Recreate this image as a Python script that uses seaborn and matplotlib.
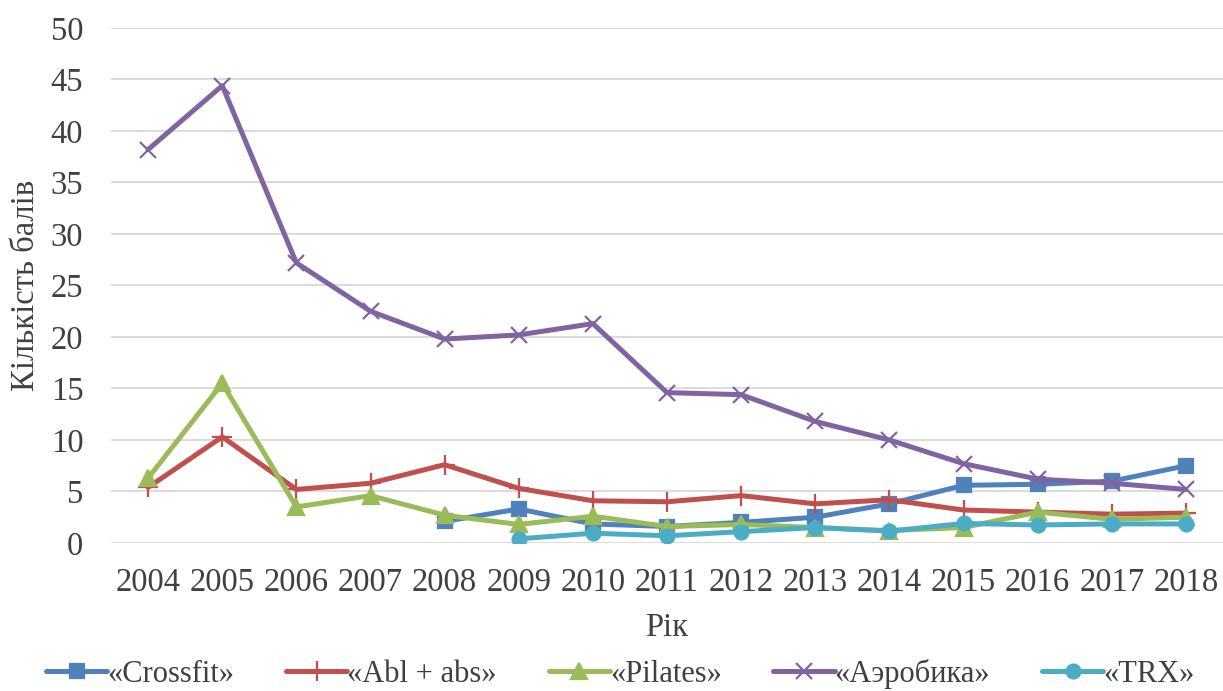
import numpy as np
import pandas as pd
import matplotlib
matplotlib.use("Agg")
import matplotlib.pyplot as plt
import seaborn as sns

# ── Data ──────────────────────────────────────────────────────────────────────
years = list(range(2004, 2019))
crossfit = [np.nan, np.nan, np.nan, np.nan, 2.1, 3.3, 1.85, 1.6, 2.0, 2.5, 3.8, 5.6, 5.7, 6.0, 7.5]
abl_abs = [5.4, 10.3, 5.2, 5.8, 7.6, 5.3, 4.1, 4.0, 4.6, 3.8, 4.2, 3.2, 3.0, 2.8, 2.9]
pilates = [6.3, 15.5, 3.5, 4.6, 2.7, 1.8, 2.6, 1.6, 1.8, 1.5, 1.2, 1.5, 3.0, 2.3, 2.5]
aerobika = [38.2, 44.4, 27.2, 22.5, 19.8, 20.2, 21.3, 14.6, 14.4, 11.8, 10.0, 7.7, 6.2, 5.8, 5.2]
trx = [np.nan, np.nan, np.nan, np.nan, np.nan, 0.4, 0.95, 0.7, 1.1, 1.5, 1.15, 1.9, 1.75, 1.85, 1.85]

series_names = ["«Crossfit»", "«Abl + abs»", "«Pilates»", "«Аэробика»", "«TRX»"]
series_values = [crossfit, abl_abs, pilates, aerobika, trx]
colors = ["#4F81BD", "#C0504D", "#9BBB59", "#8064A2", "#4BACC6"]
markers = ["s", "+", "^", "x", "o"]
marker_sizes = [10, 14, 11, 12, 10]

df = pd.concat(
    [pd.DataFrame({"year": years, "value": vals, "series": name})
     for name, vals in zip(series_names, series_values)],
    ignore_index=True,
).dropna()

# ── Plot ──────────────────────────────────────────────────────────────────────
sns.set_theme(style="white")
plt.rcParams["font.family"] = ["Liberation Serif", "DejaVu Serif"]

fig = plt.figure(figsize=(12.23, 6.91), dpi=100)
ax = fig.add_axes([0.0908, 0.2142, 0.9092, 0.7453])

for name, color, mk, ms in zip(series_names, colors, markers, marker_sizes):
    sub = df[df["series"] == name]
    sns.lineplot(
        data=sub, x="year", y="value", ax=ax, color=color, linewidth=3.6,
        marker=mk, markersize=ms, markeredgecolor=color, markeredgewidth=1.6,
        label=name,
    )

ax.set_xlim(2003.5, 2018.5)
ax.set_ylim(0, 50)
ax.set_xticks(years)
ax.set_xticklabels([str(y) for y in years])
ax.set_yticks(range(0, 51, 5))
ax.tick_params(axis="both", labelsize=23.5, colors="#404040", length=0)
ax.tick_params(axis="x", pad=18)
ax.tick_params(axis="y", pad=20)
ax.yaxis.grid(True, color="#d9d9d9", linewidth=1.3)
ax.set_axisbelow(True)
for sp in ax.spines.values():
    sp.set_visible(False)

ax.set_xlabel("Рік", fontsize=23.5, color="#404040", labelpad=10)
ax.set_ylabel("Кількість балів", fontsize=23.5, color="#404040", labelpad=7)

ax.legend(
    loc="center", bbox_to_anchor=(0.458, -0.254), ncol=5, frameon=False,
    fontsize=22, handlelength=2.0, columnspacing=1.7, handletextpad=0.0,
    labelcolor="#404040",
)

fig.savefig("out.png", dpi=100)
